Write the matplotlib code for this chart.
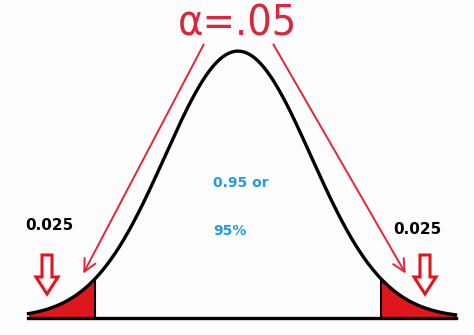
import numpy as np
import matplotlib
matplotlib.use("Agg")
import matplotlib.pyplot as plt
from matplotlib.patches import Polygon

# values shown in the chart
alpha = 0.05
tail_area = alpha / 2          # 0.025 in each tail
z_crit = 1.96                  # two-sided critical value
z_range = (-2.87, 2.98)        # extent of the drawn curve
title_label = "\u03b1=.05"
tail_labels = ["0.025", "0.025"]
centre_labels = ["0.95 or", "95%"]

# pixel mapping of the picture
X0, SD_PX = 238, 73.0
BASE, PDF_PX = 318, 669.0
RED = "#e0161e"
PINK = "#e2263a"
BLUE = "#1f9de0"


def to_px(z, p):
    return X0 + SD_PX * np.asarray(z), BASE - PDF_PX * np.asarray(p)


def pdf(z):
    return np.exp(-0.5 * z ** 2) / np.sqrt(2 * np.pi)


fig = plt.figure(figsize=(4.74, 3.35), dpi=100)
fig.patch.set_facecolor("#fdfdfd")
ax = fig.add_axes([0, 0, 1, 1])
ax.set_xlim(0, 474)
ax.set_ylim(335, 0)
ax.axis("off")

z = np.linspace(z_range[0], z_range[1], 400)
xp, yp = to_px(z, pdf(z))

# shaded tails
for lo, hi in [(z_range[0], -z_crit), (z_crit, z_range[1])]:
    zt = np.linspace(lo, hi, 100)
    tx, ty = to_px(zt, pdf(zt))
    ax.fill_between(tx, ty, BASE, color=RED, lw=0, zorder=2)
    edge = tx[-1] if lo < 0 else tx[0]
    top = ty[-1] if lo < 0 else ty[0]
    ax.plot([edge, edge], [BASE, top], color="black", lw=1.5, zorder=3)

ax.plot(xp, yp, color="black", lw=2.4, zorder=4)
ax.plot([xp[0], xp[-1]], [BASE, BASE], color="black", lw=2.4, zorder=4)

# title and thin arrows
ax.text(238, 24, title_label, color="#d8283e", fontsize=31, ha="center",
        va="center", family=["DejaVu Sans Condensed", "DejaVu Sans"],
        fontstretch="condensed")
ax.annotate("", xy=(82, 276), xytext=(205, 42),
            arrowprops=dict(arrowstyle="->", color=PINK, lw=1.4,
                            mutation_scale=22))
ax.annotate("", xy=(407, 276), xytext=(272, 42),
            arrowprops=dict(arrowstyle="->", color=PINK, lw=1.4,
                            mutation_scale=22))

# hollow block arrows over the tails
for cx in (47, 425):
    pts = [(cx - 5, 255), (cx + 5, 255), (cx + 5, 277), (cx + 11, 277),
           (cx, 294), (cx - 11, 277), (cx - 5, 277)]
    ax.add_patch(Polygon(pts, closed=True, facecolor="white",
                         edgecolor=RED, lw=2.2, zorder=5))

ax.text(25, 226, tail_labels[0], fontsize=11, fontweight="bold",
        ha="left", va="center")
ax.text(393, 230, tail_labels[1], fontsize=11, fontweight="bold",
        ha="left", va="center")
ax.text(213, 183, centre_labels[0], fontsize=10, fontweight="bold",
        color=BLUE, ha="left", va="center")
ax.text(213, 231, centre_labels[1], fontsize=10, fontweight="bold",
        color=BLUE, ha="left", va="center")

fig.savefig("out.png", dpi=100, facecolor=fig.get_facecolor())
